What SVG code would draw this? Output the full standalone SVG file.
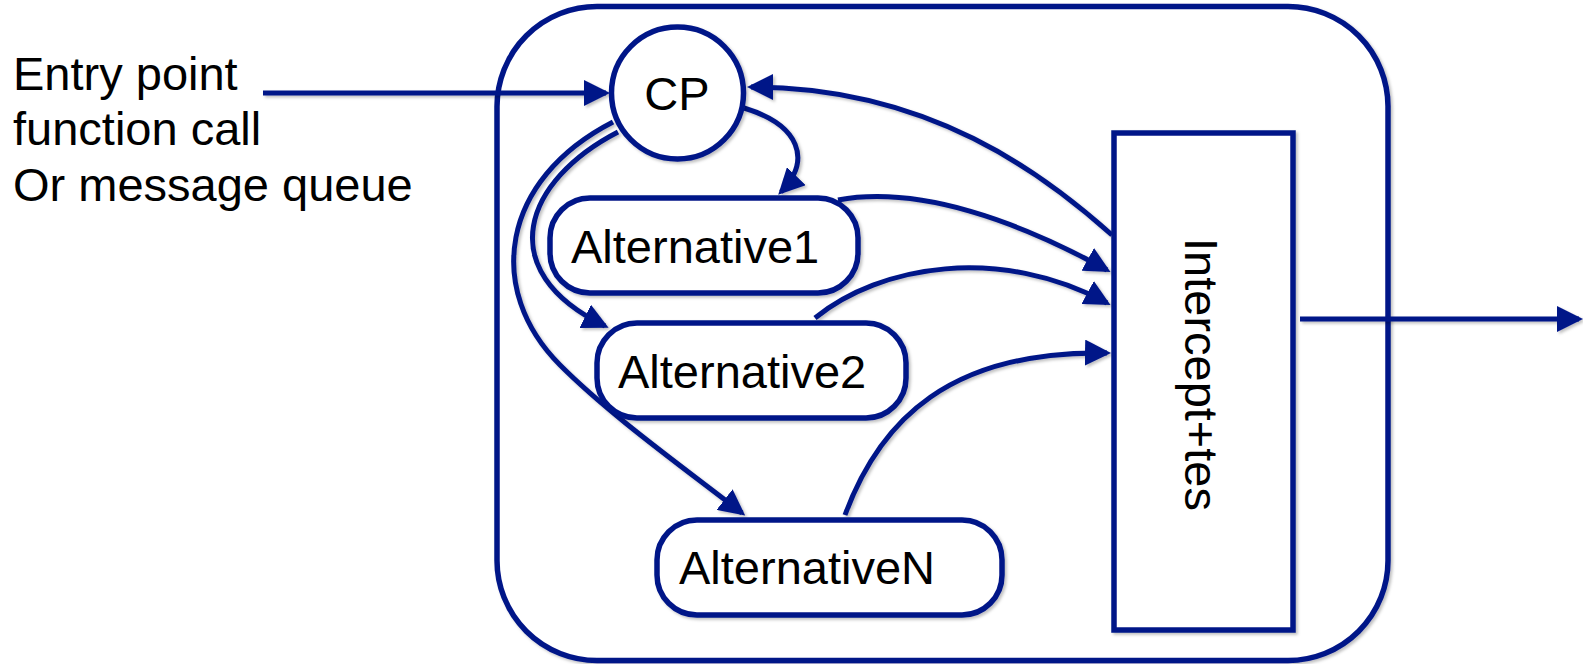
<svg xmlns="http://www.w3.org/2000/svg" width="1583" height="664" viewBox="0 0 1583 664">
<style>
.box{fill:#fff;stroke:#051788;stroke-width:5.5;filter:url(#sh)}
.edge{fill:none;stroke:#051788;stroke-width:5;marker-end:url(#ah);filter:url(#sh)}
.lbl{font-family:"Liberation Sans",Arial,Helvetica,sans-serif;font-size:47px;fill:#000}
</style>
<defs>
<filter id="sh" filterUnits="userSpaceOnUse" x="0" y="0" width="1583" height="664">
<feDropShadow dx="2" dy="2" stdDeviation="1.5" flood-color="#000" flood-opacity="0.25"/>
</filter>
<marker id="ah" viewBox="0 0 26 26" refX="22" refY="13" markerWidth="26" markerHeight="26" markerUnits="userSpaceOnUse" orient="auto">
<path d="M0,0 L26,13 L0,26 z" fill="#051788"/>
</marker>
</defs>
<rect width="1583" height="664" fill="#fff"/>
<g id="container">
<rect class="box" x="497" y="6.5" width="891" height="654" rx="100" ry="100"/>
</g>
<g id="entry-label">
<text class="lbl" x="13" y="90">Entry point</text>
<text class="lbl" x="13" y="145">function call</text>
<text class="lbl" x="13" y="201">Or message queue</text>
</g>
<g id="connectors">
<path class="edge" d="M263,93 L606,93"/>
<path class="edge" d="M1112,235 C1045,175 930,87 751,87"/>
<path class="edge" d="M744,108 C800,125 812,160 781,192"/>
<path class="edge" d="M618,132 C525,180 490,270 605,326"/>
<path class="edge" d="M613,122 C500,180 485,290 560,365 C610,415 680,465 742,513"/>
<path class="edge" d="M838,200 C920,185 1020,222 1107,270"/>
<path class="edge" d="M815,318 C880,265 1000,245 1107,303"/>
<path class="edge" d="M845,515 C880,420 950,350 1107,353"/>
<path class="edge" d="M1300,319 L1579,319"/>
</g>
<g id="cp">
<circle class="box" cx="677.5" cy="93" r="66"/>
<text class="lbl" x="677" y="110" text-anchor="middle">CP</text>
</g>
<g id="alternative1">
<rect class="box" x="550" y="198" width="308" height="95" rx="40" ry="40"/>
<text class="lbl" x="571" y="263">Alternative1</text>
</g>
<g id="alternative2">
<rect class="box" x="597" y="323" width="309" height="95" rx="40" ry="40"/>
<text class="lbl" x="618" y="388">Alternative2</text>
</g>
<g id="alternativeN">
<rect class="box" x="657" y="520" width="345" height="95" rx="40" ry="40"/>
<text class="lbl" x="679" y="584">AlternativeN</text>
</g>
<g id="intercept">
<rect class="box" x="1114" y="133" width="179" height="497"/>
<text class="lbl" transform="translate(1185,374.5) rotate(90)" text-anchor="middle">Intercept+tes</text>
</g>
</svg>
